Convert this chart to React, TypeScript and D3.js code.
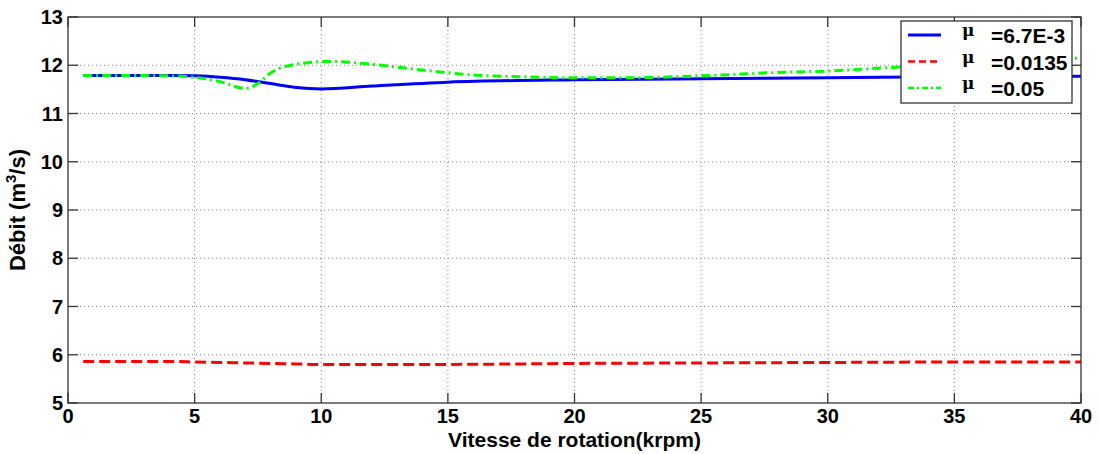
import React from "react";
import * as d3 from "d3";

// speed (krpm) and flow values
const xBlueRed = [0.6, 2, 4, 5, 6, 7, 8, 9, 10, 12, 15, 20, 25, 30, 35, 40];
const blueVals = [11.79, 11.79, 11.79, 11.78, 11.75, 11.7, 11.62, 11.54, 11.51, 11.57, 11.65, 11.7, 11.72, 11.74, 11.76, 11.77];
const redVals = [5.86, 5.86, 5.86, 5.85, 5.84, 5.83, 5.82, 5.81, 5.8, 5.8, 5.8, 5.82, 5.83, 5.84, 5.85, 5.85];
const xGreen = [0.6, 2, 4, 5, 6, 7, 7.5, 8, 9, 10.3, 12, 14, 16, 18, 20, 22, 25, 28, 30, 33, 36, 40];
const greenVals = [11.79, 11.79, 11.78, 11.75, 11.66, 11.52, 11.62, 11.84, 12.02, 12.08, 12.02, 11.9, 11.8, 11.76, 11.74, 11.74, 11.78, 11.85, 11.88, 11.97, 12.05, 12.15];

const xTicks = [0, 5, 10, 15, 20, 25, 30, 35, 40];
const yTicks = [5, 6, 7, 8, 9, 10, 11, 12, 13];
const legendLabels = ["=6.7E-3", "=0.0135", "=0.05"];

const W = 1099;
const H = 454;
const margin = { top: 17, right: 18, bottom: 51, left: 68 };
const font = "Liberation Sans, Arial, sans-serif";

export default function App() {
  const svgRef = React.useRef<SVGSVGElement>(null);

  React.useEffect(() => {
    const svg = d3.select(svgRef.current);
    svg.selectAll("*").remove();

    const x = d3.scaleLinear().domain([0, 40]).range([margin.left, W - margin.right]);
    const y = d3.scaleLinear().domain([5, 13]).range([H - margin.bottom, margin.top]);
    const [x0, x1] = x.range();
    const [y0, y1] = y.range();

    svg.append("rect").attr("x", x0).attr("y", y1).attr("width", x1 - x0).attr("height", y0 - y1).attr("fill", "#fff");

    /* grid */
    const grid = svg.append("g").attr("stroke", "#888").attr("stroke-width", 1).attr("stroke-dasharray", "1,3");
    xTicks.slice(1, -1).forEach((t) => {
      grid.append("line").attr("x1", x(t)).attr("x2", x(t)).attr("y1", y0).attr("y2", y1);
    });
    yTicks.slice(1, -1).forEach((t) => {
      grid.append("line").attr("x1", x0).attr("x2", x1).attr("y1", y(t)).attr("y2", y(t));
    });

    /* series */
    const line = d3
      .line<[number, number]>()
      .x((d) => x(d[0]))
      .y((d) => y(d[1]))
      .curve(d3.curveMonotoneX);

    const series = [
      { xs: xBlueRed, ys: blueVals, color: "#0000ff", dash: null },
      { xs: xBlueRed, ys: redVals, color: "#ff0000", dash: "11,5" },
      { xs: xGreen, ys: greenVals, color: "#00ff00", dash: "9,4,2,4" },
    ];
    series.forEach((s) => {
      const pts = s.xs.map((v, i) => [v, s.ys[i]] as [number, number]);
      svg
        .append("path")
        .attr("d", line(pts))
        .attr("fill", "none")
        .attr("stroke", s.color)
        .attr("stroke-width", 3)
        .attr("stroke-dasharray", s.dash);
    });

    /* box + ticks */
    const axis = svg.append("g").attr("stroke", "#333").attr("stroke-width", 1.3);
    axis.append("rect").attr("x", x0).attr("y", y1).attr("width", x1 - x0).attr("height", y0 - y1).attr("fill", "none");
    const tl = 10;
    xTicks.forEach((t) => {
      axis.append("line").attr("x1", x(t)).attr("x2", x(t)).attr("y1", y0).attr("y2", y0 - tl);
      axis.append("line").attr("x1", x(t)).attr("x2", x(t)).attr("y1", y1).attr("y2", y1 + tl);
    });
    yTicks.forEach((t) => {
      axis.append("line").attr("x1", x0).attr("x2", x0 + tl).attr("y1", y(t)).attr("y2", y(t));
      axis.append("line").attr("x1", x1).attr("x2", x1 - tl).attr("y1", y(t)).attr("y2", y(t));
    });

    /* tick labels */
    const labels = svg.append("g").attr("font-family", font).attr("font-weight", "bold").attr("font-size", 20).attr("fill", "#000");
    xTicks.forEach((t) => {
      labels.append("text").attr("x", x(t)).attr("y", y0 + 20).attr("text-anchor", "middle").text(t);
    });
    yTicks.forEach((t) => {
      labels.append("text").attr("x", x0 - 5).attr("y", y(t) + 7).attr("text-anchor", "end").text(t);
    });

    /* axis titles */
    labels
      .append("text")
      .attr("x", (x0 + x1) / 2)
      .attr("y", y0 + 44)
      .attr("text-anchor", "middle")
      .attr("font-size", 21)
      .text("Vitesse de rotation(krpm)");
    const yt = labels
      .append("text")
      .attr("transform", `translate(25,${(y0 + y1) / 2}) rotate(-90)`)
      .attr("text-anchor", "middle")
      .attr("font-size", 22);
    yt.append("tspan").text("Débit (m");
    yt.append("tspan").attr("dy", -9).attr("font-size", 15).text("3");
    yt.append("tspan").attr("dy", 9).text("/s)");

    /* legend */
    const lg = svg.append("g");
    lg.append("rect").attr("x", 901).attr("y", 21).attr("width", 171).attr("height", 82).attr("fill", "#fff").attr("stroke", "#333").attr("stroke-width", 1.3);
    series.forEach((s, i) => {
      const ly = 35 + i * 26.5;
      lg.append("line")
        .attr("x1", 908)
        .attr("x2", 941)
        .attr("y1", ly)
        .attr("y2", ly)
        .attr("stroke", s.color)
        .attr("stroke-width", i === 0 ? 3 : 2.5)
        .attr("stroke-dasharray", i === 1 ? "7,4" : i === 2 ? "6,3,2,3" : null);
      lg.append("text")
        .attr("x", 962)
        .attr("y", ly + 1)
        .attr("font-family", "DejaVu Serif, serif")
        .attr("font-weight", "bold")
        .attr("font-size", 17)
        .text("\u03bc");
      lg.append("text")
        .attr("x", 991)
        .attr("y", ly + 8)
        .attr("font-family", font)
        .attr("font-weight", "bold")
        .attr("font-size", 21)
        .text(legendLabels[i]);
    });
  }, []);

  return <svg ref={svgRef} width={W} height={H} style={{ position: "absolute", left: 0, top: 0, background: "#fff" }} />;
}
